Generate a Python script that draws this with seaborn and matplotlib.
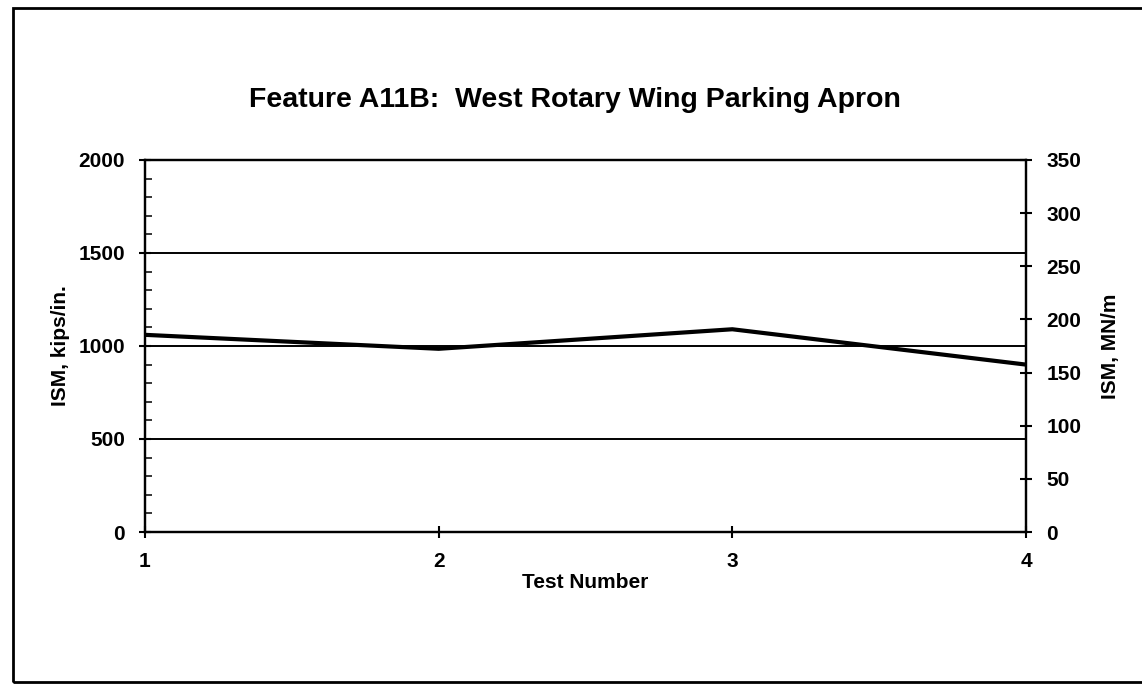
import matplotlib
matplotlib.use("Agg")
import matplotlib.pyplot as plt
from matplotlib.patches import Rectangle
from matplotlib.ticker import MultipleLocator
import seaborn as sns
import pandas as pd

# Impulse stiffness modulus measured at each test point
test_numbers = [1, 2, 3, 4]
ism_kips_per_in = [1060, 985, 1090, 900]

left_ticks = [0, 500, 1000, 1500, 2000]
right_ticks = [0, 50, 100, 150, 200, 250, 300, 350]
title = "Feature A11B:  West Rotary Wing Parking Apron"

sns.set_theme(style="white")
plt.rcParams["font.family"] = ["Liberation Sans", "DejaVu Sans"]
plt.rcParams["font.weight"] = "bold"
plt.rcParams["text.color"] = "black"
plt.rcParams["axes.labelcolor"] = "black"

fig = plt.figure(figsize=(11.42, 6.87), dpi=100)
fig.patch.set_facecolor("white")

# outer chart border
fig.add_artist(Rectangle((13 / 1142, 1 - 682 / 687), 1.2, (682 - 8) / 687,
                         transform=fig.transFigure, fill=False,
                         edgecolor="black", linewidth=2.0))

ax = fig.add_axes([145 / 1142, 1 - 532 / 687, (1026 - 145) / 1142, (532 - 160) / 687])
df = pd.DataFrame({"test": test_numbers, "ism": ism_kips_per_in})

# horizontal reference lines
for v in left_ticks[1:-1]:
    ax.axhline(v, color="black", linewidth=1.4, zorder=1)

sns.lineplot(data=df, x="test", y="ism", ax=ax, color="black",
             linewidth=3.0, zorder=3)

ax.set_xlim(1, 4)
ax.set_ylim(0, 2000)
ax.set_xticks(test_numbers)
ax.set_yticks(left_ticks)
ax.yaxis.set_minor_locator(MultipleLocator(100))
ax.tick_params(axis="y", which="major", direction="inout", length=9, width=1.5,
               left=True, labelsize=15, colors="black", pad=10)
ax.tick_params(axis="y", which="minor", direction="in", length=5, width=1.3, left=True)
ax.tick_params(axis="x", which="major", direction="inout", length=9, width=1.5,
               bottom=True, labelsize=15, colors="black", pad=10)
for lbl in ax.get_xticklabels() + ax.get_yticklabels():
    lbl.set_fontweight("bold")

for s in ax.spines.values():
    s.set_color("black")
    s.set_linewidth(1.6)

ax.set_xlabel("Test Number", fontsize=15, fontweight="bold", labelpad=1)
ax.set_ylabel("ISM, kips/in.", fontsize=15, fontweight="bold", labelpad=6)

# secondary scale in SI units (2000 kips/in. = 350 MN/m)
ax2 = ax.twinx()
ax2.set_ylim(0, 350)
ax2.set_yticks(right_ticks)
ax2.tick_params(axis="y", which="major", direction="inout", length=9, width=1.5,
                right=True, labelsize=15, colors="black", pad=10)
for lbl in ax2.get_yticklabels():
    lbl.set_fontweight("bold")
for s in ax2.spines.values():
    s.set_color("black")
    s.set_linewidth(1.6)
ax2.set_ylabel("ISM, MN/m", fontsize=15, fontweight="bold", labelpad=14)
ax2.grid(False)
ax.grid(False)

fig.text(575 / 1142, 1 - 100 / 687, title, ha="center", va="center",
         fontsize=20.5, fontweight="bold", color="black")

fig.savefig("out.png", dpi=100, facecolor="white")
